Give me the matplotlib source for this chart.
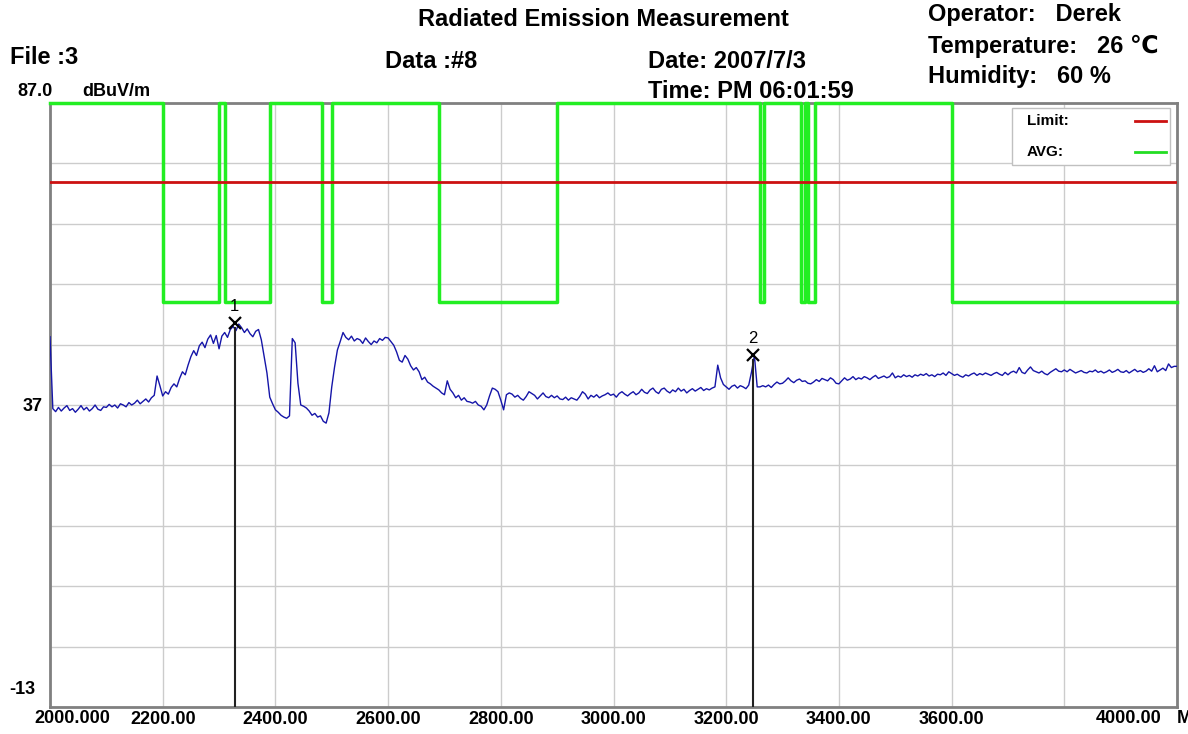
import numpy as np
import matplotlib
matplotlib.use("Agg")
import matplotlib.pyplot as plt
from matplotlib import transforms

plt.rcParams['font.family'] = ['Liberation Sans', 'DejaVu Sans']

# measured trace, 5 MHz steps from 2000 to 4000 MHz (dBuV/m)
freq = np.arange(2000, 4001, 5)
level = [
    48.3, 36.4, 35.9, 36.6, 36.0, 36.5, 36.9, 36.1, 36.4, 35.8, 36.3, 36.9, 36.2, 36.6, 36.0, 36.4, 37.0, 36.3, 36.1, 36.7,
    36.6, 37.1, 36.7, 37.0, 36.5, 37.2, 37.0, 36.7, 37.4, 37.0, 37.3, 37.8, 37.2, 37.6, 38.0, 37.5, 38.2, 38.6, 41.8, 40.2,
    38.5, 39.2, 38.8, 39.9, 40.5, 40.0, 41.4, 42.5, 42.0, 43.6, 45.0, 46.0, 45.2, 46.8, 47.4, 46.5, 47.9, 48.6, 47.2, 48.5,
    46.3, 48.4, 49.0, 48.2, 49.5, 50.0, 49.3, 50.4, 49.8, 49.0, 49.6, 48.8, 48.3, 49.2, 49.5, 47.8, 45.0, 42.3, 38.3, 37.2,
    36.2, 35.8, 35.3, 35.0, 34.8, 35.2, 48.0, 47.3, 40.6, 37.0, 36.8, 36.5, 36.0, 35.3, 35.6, 35.0, 35.2, 34.3, 34.0, 35.7,
    40.0, 43.3, 46.1, 47.5, 49.0, 48.2, 47.8, 48.4, 47.6, 48.0, 47.8, 47.2, 48.1, 47.5, 47.0, 47.6, 47.3, 48.0, 47.7, 48.2,
    48.1, 47.5, 46.9, 45.8, 44.4, 44.1, 45.2, 44.6, 43.5, 42.8, 43.2, 42.5, 41.2, 41.6, 40.8, 40.5, 40.1, 39.8, 39.5, 39.0,
    38.7, 41.0, 39.6, 39.0, 38.2, 38.6, 37.8, 38.2, 37.6, 37.5, 37.3, 37.6, 37.0, 36.8, 36.2, 37.0, 38.5, 39.8, 39.6, 39.2,
    37.8, 36.2, 38.7, 39.0, 38.8, 38.3, 38.6, 38.1, 37.8, 38.4, 39.2, 38.9, 38.6, 38.0, 38.5, 39.0, 38.4, 38.2, 38.6, 38.2,
    38.5, 38.0, 37.9, 38.3, 37.8, 38.2, 38.0, 37.8, 38.4, 39.2, 38.8, 38.0, 38.6, 38.3, 38.7, 38.2, 38.5, 38.7, 39.0, 38.6,
    38.8, 38.3, 38.9, 39.2, 38.8, 38.5, 38.9, 39.2, 38.7, 39.0, 39.6, 39.1, 38.9, 39.5, 39.8, 39.2, 38.9, 39.6, 39.8, 39.3,
    39.0, 39.5, 39.2, 39.8, 39.3, 39.6, 39.0, 39.4, 39.7, 39.3, 39.6, 39.9, 39.4, 39.7, 39.5, 39.8, 40.0, 43.6, 41.5, 40.4,
    40.0, 39.6, 40.1, 40.3, 39.8, 40.2, 40.0, 39.7, 40.3, 42.5, 45.2, 40.0, 40.0, 40.2, 40.0, 40.3, 39.9, 40.4, 40.8, 40.5,
    40.6, 41.0, 41.5, 41.0, 40.7, 41.1, 41.3, 40.9, 41.0, 40.6, 40.5, 40.8, 41.2, 40.9, 41.4, 41.2, 41.0, 41.5, 41.2, 40.6,
    40.5, 41.0, 41.5, 41.1, 41.3, 41.7, 41.2, 41.5, 41.3, 41.7, 41.5, 41.2, 41.6, 41.9, 41.4, 41.6, 41.8, 41.5, 41.7, 42.3,
    41.5, 41.8, 41.6, 42.0, 41.7, 41.9, 41.6, 42.0, 41.8, 42.1, 41.9, 42.2, 41.8, 42.0, 41.7, 42.1, 42.0, 42.3, 41.9, 42.5,
    42.2, 41.9, 42.1, 41.8, 41.6, 42.0, 41.8, 42.1, 42.3, 41.9, 42.2, 42.0, 42.3, 42.1, 41.9, 42.2, 42.4, 42.1, 41.9, 42.4,
    42.0, 42.4, 42.6, 42.3, 43.2, 42.4, 42.2, 42.8, 43.3, 42.7, 42.5, 42.3, 42.6, 42.2, 42.0, 42.4, 42.7, 43.0, 42.6, 42.5,
    42.8, 42.5, 42.9, 42.6, 42.3, 42.5, 42.7, 42.4, 42.3, 42.6, 42.5, 42.8, 42.4, 42.6, 42.3, 42.5, 42.8, 42.4, 42.6, 42.9,
    42.5, 42.4, 42.7, 42.3, 42.6, 42.9, 42.5, 42.7, 42.4, 42.6, 43.0, 42.6, 43.5, 42.5, 42.8, 43.1, 42.7, 43.8, 43.2, 43.4,
    43.4,
]

limit_level = 74.0
avg_low = 54.0
avg_high = 87.0
# restricted bands (MHz) where the AVG mask drops
bands = [(2200, 2300), (2310, 2390), (2483.5, 2500), (2690, 2900),
         (3260, 3267), (3332, 3339), (3345.8, 3358), (3600, 4400)]

marker_freq = [2328, 3248]
marker_level = [50.6, 45.3]
marker_names = ['1', '2']

x_min, x_max = 2000, 4000
y_min, y_max = -13, 87

fig = plt.figure(figsize=(11.88, 7.34), dpi=100)
ax = fig.add_axes([50 / 1188, 27 / 734, 1127 / 1188, 604 / 734])
ax.set_xlim(x_min, x_max)
ax.set_ylim(y_min, y_max)

# grid
ax.set_xticks(np.arange(2000, 4001, 200))
ax.set_yticks(np.arange(-13, 88, 10))
ax.grid(color='#cccccc', lw=1)
ax.tick_params(length=0)
for s in ax.spines.values():
    s.set_color('#808080')
    s.set_linewidth(2)

# AVG mask as step line
mx, my = [x_min], [avg_high]
for a, b in bands:
    if b >= x_max:
        mx += [a, a, x_max]
        my += [avg_high, avg_low, avg_low]
    else:
        mx += [a, a, b, b]
        my += [avg_high, avg_low, avg_low, avg_high]
if mx[-1] < x_max:
    mx.append(x_max)
    my.append(avg_high)
ax.plot(mx, my, color='#22ee22', lw=2.5, clip_on=False, zorder=3)

ax.axhline(limit_level, color='#cc1111', lw=2, zorder=3)

ax.plot(freq, level, color='#1515a8', lw=1, zorder=4)

# markers
for f, v, n in zip(marker_freq, marker_level, marker_names):
    ax.plot([f, f], [y_min, v - 0.8], color='#222222', lw=1.5, zorder=5)
    ax.plot(f, v, marker='x', color='black', ms=9, mew=1.6, zorder=6)
    ax.text(f, v + 1.4, n, ha='center', va='bottom', fontsize=12, zorder=6)

# tick labels
tick_fs = 13
xlabels = ['', '2200.00', '2400.00', '2600.00', '2800.00', '3000.00',
           '3200.00', '3400.00', '3600.00', '', '']
ax.set_xticklabels(xlabels, fontsize=tick_fs, fontweight='bold')
ax.tick_params(axis='x', pad=3)
ylabels = ['' for _ in ax.get_yticks()]
ylabels[5] = '37'
ax.set_yticklabels(ylabels, fontsize=tick_fs, fontweight='bold')
ax.tick_params(axis='y', pad=5)

yt = ax.get_yaxis_transform()
ax.text(0, -13, '-13', transform=transforms.offset_copy(yt, fig=fig, x=-15, y=17, units='dots'),
        ha='right', va='center', fontsize=tick_fs, fontweight='bold')

xt = ax.get_xaxis_transform()
ax.text(2000, 0, '2000.000', transform=transforms.offset_copy(xt, fig=fig, x=-16, y=-3, units='dots'),
        ha='left', va='top', fontsize=tick_fs, fontweight='bold')
ax.text(4000, 0, '4000.00', transform=transforms.offset_copy(xt, fig=fig, x=-16, y=-3, units='dots'),
        ha='right', va='top', fontsize=tick_fs, fontweight='bold')
ax.text(4000, 0, 'M', transform=transforms.offset_copy(xt, fig=fig, x=0, y=-3, units='dots'),
        ha='left', va='top', fontsize=tick_fs, fontweight='bold', clip_on=False)

# legend box
ax.add_artist(plt.Rectangle((0.8536, 0.897), 0.140, 0.0947, transform=ax.transAxes,
                            fc='white', ec='#c0c0c0', lw=1, zorder=7))
ax.text(0.8669, 0.970, 'Limit:', transform=ax.transAxes, ha='left', va='center',
        fontsize=11, fontweight='bold', zorder=8)
ax.text(0.8669, 0.919, 'AVG:', transform=ax.transAxes, ha='left', va='center',
        fontsize=11, fontweight='bold', zorder=8)
ax.plot([0.9627, 0.9902], [0.970, 0.970], transform=ax.transAxes, color='#cc1111', lw=2, zorder=9)
ax.plot([0.9627, 0.9902], [0.919, 0.919], transform=ax.transAxes, color='#22dd22', lw=2, zorder=9)

# header texts
def ftext(x, y, s, **kw):
    fig.text(x / 1188, 1 - y / 734, s, va='center', **kw)

hfs = 17
ftext(603, 20, 'Radiated Emission Measurement', ha='center', fontsize=hfs, fontweight='bold')
ftext(10, 57, 'File :3', ha='left', fontsize=hfs, fontweight='bold')
ftext(17, 91, '87.0', ha='left', fontsize=13, fontweight='bold')
ftext(82, 91, 'dBuV/m', ha='left', fontsize=13, fontweight='bold')
ftext(385, 61, 'Data :#8', ha='left', fontsize=hfs, fontweight='bold')
ftext(648, 61, 'Date: 2007/7/3', ha='left', fontsize=hfs, fontweight='bold')
ftext(648, 92, 'Time: PM 06:01:59', ha='left', fontsize=hfs, fontweight='bold')
ftext(928, 14, 'Operator:   Derek', ha='left', fontsize=hfs, fontweight='bold')
ftext(928, 46, 'Temperature:   26 ℃', ha='left', fontsize=hfs, fontweight='bold')
ftext(928, 77, 'Humidity:   60 %', ha='left', fontsize=hfs, fontweight='bold')

fig.savefig('out.png', dpi=100)
